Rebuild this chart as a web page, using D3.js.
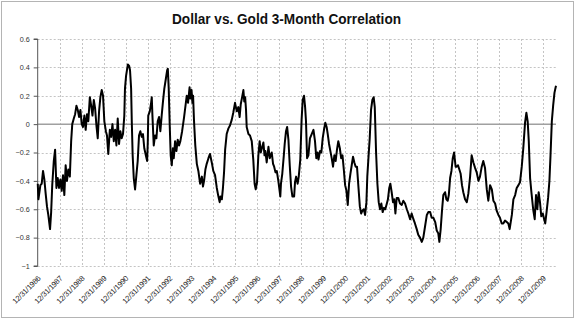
<!DOCTYPE html>
<html>
<head>
<meta charset="utf-8">
<script src="https://cdn.jsdelivr.net/npm/d3@7"></script>
<style>
  html, body { margin: 0; padding: 0; background: #fff; }
  svg { display: block; }
  .aa { opacity: 0.999; }
</style>
</head>
<body>
<div id="chart"></div>
<script>
// ---------- data ----------
const title = "Dollar vs. Gold 3-Month Correlation";

const xTickLabels = ["12/31/1986","12/31/1987","12/31/1988","12/31/1989","12/31/1990","12/31/1991",
  "12/31/1992","12/31/1993","12/31/1994","12/31/1995","12/31/1996","12/31/1997","12/31/1998",
  "12/31/1999","12/31/2000","12/31/2001","12/31/2002","12/31/2003","12/31/2004","12/31/2005",
  "12/31/2006","12/31/2007","12/31/2008","12/31/2009"];

const yTicks = [0.6, 0.4, 0.2, 0, -0.2, -0.4, -0.6, -0.8, -1];

// dates as decimal years
const years = [
1987.00,1987.03,1987.12,1987.18,1987.24,1987.30,1987.36,1987.42,1987.48,1987.56,1987.61,1987.66,1987.73,1987.79,1987.85,1987.91,1987.97,
1988.03,1988.09,1988.15,1988.21,1988.27,1988.33,1988.39,1988.46,1988.52,1988.57,1988.64,1988.70,1988.76,1988.82,1988.88,1988.94,
1989.00,1989.06,1989.12,1989.18,1989.24,1989.30,1989.37,1989.43,1989.49,1989.55,1989.61,1989.67,1989.73,1989.79,1989.85,1989.91,1989.97,
1990.03,1990.10,1990.15,1990.21,1990.28,1990.34,1990.40,1990.46,1990.52,1990.58,1990.64,1990.70,1990.76,1990.82,1990.88,1990.94,1990.97,
1991.02,1991.10,1991.16,1991.20,1991.25,1991.28,1991.32,1991.37,1991.43,1991.49,1991.55,1991.61,1991.67,1991.73,1991.79,1991.85,1991.92,1991.98,
1992.01,1992.03,1992.10,1992.16,1992.19,1992.22,1992.28,1992.34,1992.40,1992.46,1992.52,1992.58,1992.64,1992.70,1992.76,1992.83,1992.89,1992.92,1992.96,
1993.01,1993.05,1993.10,1993.15,1993.19,1993.25,1993.31,1993.37,1993.43,1993.49,1993.57,1993.66,1993.78,1993.84,1993.91,1993.95,
1994.00,1994.04,1994.07,1994.11,1994.17,1994.24,1994.31,1994.39,1994.47,1994.52,1994.57,1994.63,1994.69,1994.77,1994.84,1994.92,1994.99,
1995.07,1995.15,1995.21,1995.28,1995.32,1995.38,1995.43,1995.48,1995.53,1995.60,1995.68,1995.75,1995.83,1995.90,1995.98,
1996.06,1996.13,1996.19,1996.24,1996.29,1996.36,1996.40,1996.44,1996.48,1996.51,1996.59,1996.66,1996.74,1996.81,1996.87,1996.92,1996.98,
1997.04,1997.10,1997.15,1997.20,1997.27,1997.32,1997.36,1997.42,1997.50,1997.56,1997.65,1997.71,1997.76,1997.82,1997.88,1997.95,
1998.00,1998.04,1998.07,1998.13,1998.20,1998.24,1998.30,1998.35,1998.41,1998.47,1998.53,1998.59,1998.67,1998.71,1998.76,1998.83,1998.88,1998.95,
1999.01,1999.06,1999.12,1999.17,1999.21,1999.26,1999.32,1999.39,1999.47,1999.55,1999.62,1999.68,1999.74,1999.78,1999.85,1999.91,1999.97,
2000.03,2000.09,2000.15,2000.20,2000.26,2000.32,2000.38,2000.44,2000.50,2000.56,2000.62,2000.68,2000.75,2000.81,2000.87,2000.93,2000.99,
2001.05,2001.11,2001.17,2001.23,2001.29,2001.35,2001.41,2001.47,2001.53,2001.59,2001.66,2001.72,2001.78,2001.84,2001.90,2001.96,
2002.00,2002.06,2002.11,2002.17,2002.23,2002.29,2002.34,2002.40,2002.46,2002.52,2002.58,2002.64,2002.70,2002.76,2002.82,2002.89,2002.94,
2003.00,2003.05,2003.11,2003.17,2003.23,2003.28,2003.34,2003.41,2003.49,2003.57,2003.64,2003.72,2003.80,2003.87,2003.95,
2004.02,2004.10,2004.17,2004.25,2004.32,2004.40,2004.48,2004.55,2004.63,2004.71,2004.78,2004.86,2004.93,
2005.01,2005.09,2005.16,2005.23,2005.28,2005.34,2005.40,2005.46,2005.54,2005.60,2005.66,2005.71,2005.77,2005.83,2005.89,2005.95,
2006.02,2006.07,2006.13,2006.19,2006.25,2006.31,2006.37,2006.45,2006.53,2006.60,2006.68,2006.75,2006.83,2006.91,2006.98,
2007.06,2007.13,2007.21,2007.28,2007.36,2007.44,2007.51,2007.59,2007.67,2007.74,2007.82,2007.89,2007.97,
2008.04,2008.12,2008.19,2008.27,2008.35,2008.42,2008.48,2008.58,2008.65,2008.73,2008.80,2008.88,2008.95,
2009.03,2009.10,2009.18,2009.24,2009.30,2009.35,2009.41,2009.47,2009.55,2009.62,2009.68,2009.74,2009.80,2009.86,2009.92,2009.99,
2010.05,2010.10,2010.16,2010.23,2010.29,2010.34,2010.40,2010.46,2010.52,2010.56,2010.59
];

const corr = [
-0.42,-0.53,-0.43,-0.42,-0.33,-0.39,-0.49,-0.58,-0.64,-0.74,-0.62,-0.43,-0.26,-0.18,-0.45,-0.38,-0.45,
-0.39,-0.47,-0.36,-0.50,-0.29,-0.40,-0.32,-0.37,-0.12,0.00,0.04,0.07,0.13,0.10,0.05,0.10,
0.00,-0.02,0.06,-0.04,0.07,0.02,0.19,0.13,0.06,0.17,0.11,-0.01,-0.10,0.09,0.19,0.24,0.20,
0.02,-0.05,-0.08,-0.21,-0.04,-0.09,0.00,-0.12,-0.04,-0.15,0.04,-0.14,-0.05,-0.10,-0.07,0.06,0.25,
0.34,0.42,0.41,0.38,0.25,0.02,-0.22,-0.38,-0.46,-0.36,-0.26,-0.08,-0.05,-0.09,-0.07,-0.17,-0.22,-0.26,
-0.12,0.06,0.09,0.15,0.19,0.06,-0.15,-0.08,-0.10,0.02,0.05,-0.05,0.06,0.16,0.25,0.32,0.38,0.39,0.25,
-0.03,-0.22,-0.29,-0.17,-0.24,-0.12,-0.19,-0.11,-0.15,-0.12,-0.05,0.05,0.20,0.15,0.26,0.18,
0.24,0.15,0.20,0.03,-0.15,-0.28,-0.33,-0.42,-0.37,-0.44,-0.40,-0.32,-0.28,-0.24,-0.21,-0.27,-0.33,
-0.36,-0.45,-0.50,-0.55,-0.51,-0.53,-0.45,-0.34,-0.18,-0.07,-0.03,-0.01,0.03,0.08,0.15,
0.09,0.12,0.05,0.14,0.18,0.24,0.16,0.19,0.10,-0.02,-0.07,-0.08,-0.12,-0.25,-0.42,-0.46,-0.41,
-0.22,-0.12,-0.20,-0.17,-0.13,-0.22,-0.19,-0.27,-0.16,-0.24,-0.20,-0.28,-0.30,-0.34,-0.33,-0.40,
-0.46,-0.51,-0.42,-0.35,-0.22,-0.14,-0.05,-0.02,-0.11,-0.29,-0.44,-0.51,-0.51,-0.41,-0.37,-0.42,-0.37,-0.25,
0.03,0.17,0.20,0.12,0.02,-0.24,-0.22,-0.10,-0.07,-0.04,-0.12,-0.24,-0.20,-0.25,-0.19,-0.20,-0.10,
-0.04,0.01,-0.02,-0.07,-0.14,-0.19,-0.24,-0.30,-0.22,-0.26,-0.18,-0.12,-0.17,-0.24,-0.22,-0.32,-0.43,
-0.47,-0.57,-0.42,-0.35,-0.29,-0.23,-0.27,-0.30,-0.30,-0.43,-0.58,-0.63,-0.61,-0.60,-0.64,-0.55,
-0.37,-0.22,-0.10,0.10,0.17,0.19,0.12,-0.20,-0.42,-0.55,-0.60,-0.56,-0.62,-0.59,-0.60,-0.56,-0.53,
-0.45,-0.42,-0.48,-0.55,-0.53,-0.63,-0.52,-0.52,-0.56,-0.57,-0.54,-0.56,-0.60,-0.63,-0.67,
-0.63,-0.67,-0.70,-0.74,-0.78,-0.80,-0.83,-0.80,-0.72,-0.64,-0.62,-0.62,-0.66,
-0.66,-0.69,-0.75,-0.77,-0.83,-0.74,-0.61,-0.50,-0.48,-0.53,-0.54,-0.50,-0.38,-0.33,-0.24,-0.20,
-0.30,-0.30,-0.29,-0.32,-0.35,-0.43,-0.48,-0.53,-0.55,-0.49,-0.37,-0.22,-0.27,-0.31,-0.34,
-0.40,-0.37,-0.30,-0.26,-0.31,-0.46,-0.54,-0.43,-0.46,-0.54,-0.56,-0.61,-0.64,
-0.66,-0.70,-0.70,-0.68,-0.69,-0.70,-0.74,-0.64,-0.53,-0.50,-0.45,-0.43,-0.41,
-0.30,-0.17,0.01,0.08,0.02,-0.12,-0.38,-0.48,-0.60,-0.67,-0.50,-0.60,-0.48,-0.55,-0.65,-0.63,
-0.67,-0.70,-0.62,-0.52,-0.40,-0.22,0.02,0.13,0.22,0.25,0.27
];

// ---------- helpers ----------
function yearToDate(y) {
  const yr = Math.floor(y);
  const s = Date.UTC(yr, 0, 1), e = Date.UTC(yr + 1, 0, 1);
  return new Date(s + (y - yr) * (e - s));
}
const parseTick = d3.utcParse("%m/%d/%Y");
const data = years.map((y, i) => ({ date: yearToDate(y), value: corr[i] }));
const tickDates = xTickLabels.map(parseTick);

// ---------- layout ----------
const W = 575, H = 321;
const plot = { left: 37.7, right: 556, top: 39, bottom: 266 };
const FONT = "'Liberation Sans', Arial, sans-serif";

const svg = d3.select("#chart").append("svg")
  .attr("width", W).attr("height", H);

svg.append("rect").attr("x", 0).attr("y", 0).attr("width", W).attr("height", H).attr("fill", "#fff");
// outer frame
svg.append("rect").attr("x", 1.5).attr("y", 1.5).attr("width", W - 3).attr("height", 316)
  .attr("fill", "none").attr("stroke", "#b4b4b4").attr("stroke-width", 1);

const x = d3.scaleUtc()
  .domain([tickDates[0], data[data.length - 1].date])
  .range([plot.left, plot.right]);
const y = d3.scaleLinear().domain([-1, 0.6]).range([plot.bottom, plot.top]);

// title
svg.append("text")
  .attr("class", "aa")
  .attr("x", 286.5).attr("y", 24)
  .attr("text-anchor", "middle")
  .attr("font-family", FONT)
  .attr("font-weight", "bold")
  .attr("font-size", 14)
  .attr("textLength", 229)
  .attr("lengthAdjust", "spacingAndGlyphs")
  .attr("fill", "#111")
  .text(title);

// horizontal gridlines
svg.append("g").selectAll("line")
  .data(yTicks.filter(v => v !== 0))
  .join("line")
  .attr("x1", plot.left).attr("x2", plot.right)
  .attr("y1", d => Math.round(y(d)) + 0.5).attr("y2", d => Math.round(y(d)) + 0.5)
  .attr("stroke", "#c4c4c4").attr("stroke-width", 1).attr("stroke-dasharray", "2,2");

// vertical gridlines
svg.append("g").selectAll("line")
  .data(tickDates.slice(1))
  .join("line")
  .attr("x1", d => Math.round(x(d)) + 0.5).attr("x2", d => Math.round(x(d)) + 0.5)
  .attr("y1", plot.top).attr("y2", plot.bottom)
  .attr("stroke", "#c4c4c4").attr("stroke-width", 1).attr("stroke-dasharray", "2,2");

// zero line
svg.append("line")
  .attr("x1", plot.left).attr("x2", plot.right)
  .attr("y1", y(0)).attr("y2", y(0))
  .attr("stroke", "#a0a0a0").attr("stroke-width", 1.5);

// y axis
const yAxis = d3.axisLeft(y).tickValues(yTicks).tickSize(4).tickPadding(4)
  .tickFormat(d => d3.format("")(+d.toFixed(1)));
const gy = svg.append("g").attr("class", "aa").attr("transform", `translate(${plot.left},0)`).call(yAxis);
gy.select(".domain").attr("stroke", "#555").attr("d", `M-4,${plot.top}H0V${plot.bottom}H-4`);
gy.selectAll(".tick line").attr("stroke", "#555");
gy.selectAll(".tick text").attr("font-family", FONT).attr("font-size", 7.2).attr("fill", "#333");

// line
svg.append("path")
  .datum(data)
  .attr("fill", "none")
  .attr("stroke", "#000")
  .attr("stroke-width", 2)
  .attr("stroke-linejoin", "round")
  .attr("d", d3.line().x(d => x(d.date)).y(d => y(d.value)));

// x tick labels
svg.append("g").attr("class", "aa").selectAll("text")
  .data(xTickLabels)
  .join("text")
  .attr("transform", d => `translate(${x(parseTick(d)) + 1.5},${277}) rotate(-45)`)
  .attr("text-anchor", "end")
  .attr("dy", "0.35em")
  .attr("font-family", FONT)
  .attr("font-size", 7.6)
  .attr("letter-spacing", -0.2)
  .attr("fill", "#222")
  .text(d => d);
</script>
</body>
</html>
